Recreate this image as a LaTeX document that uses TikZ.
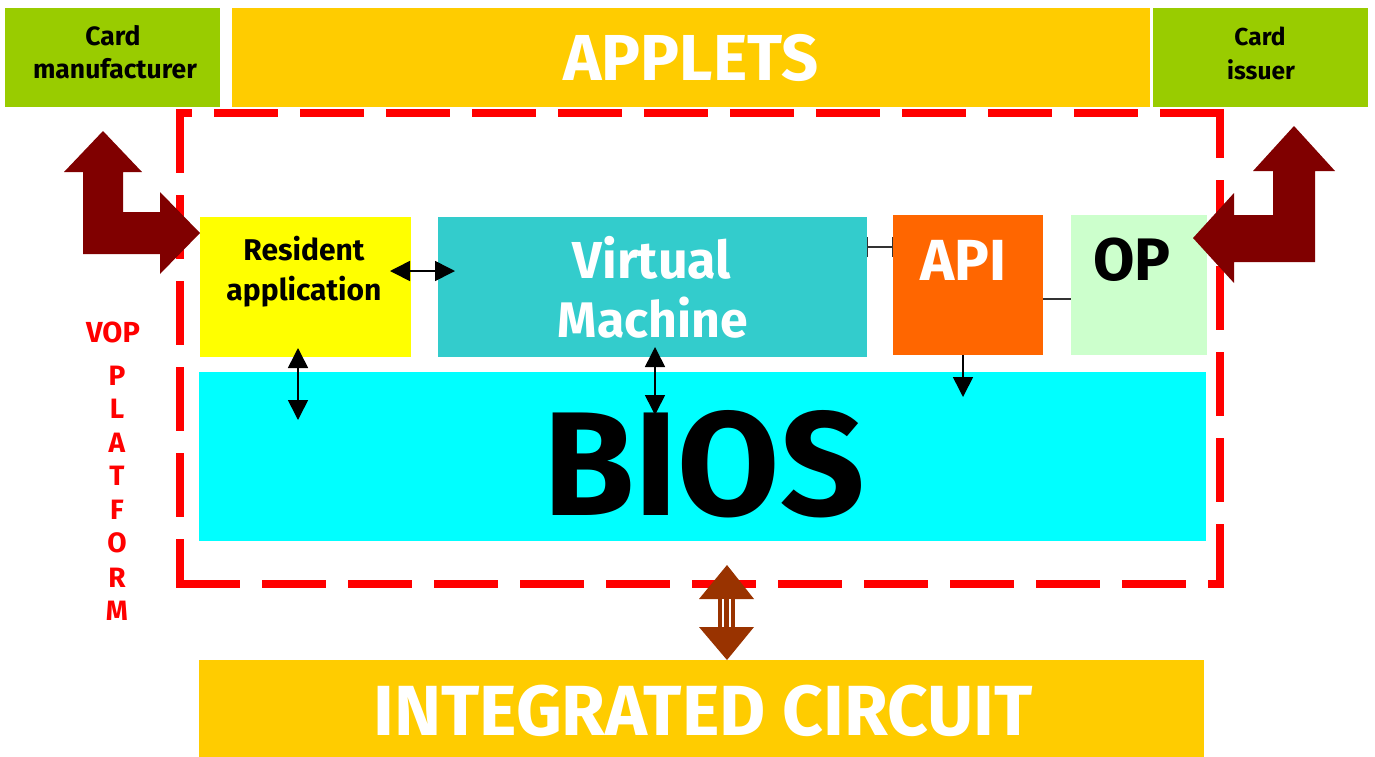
\documentclass[tikz,border=0pt]{standalone}
\usepackage{fontspec}
\setmainfont{Fira Sans}
\usetikzlibrary{arrows.meta}
\definecolor{cmgreen}{HTML}{99CC00}
\definecolor{gold}{HTML}{FFCC00}
\definecolor{vmteal}{HTML}{33CCCC}
\definecolor{apiorange}{HTML}{FF6600}
\definecolor{opgreen}{HTML}{CCFFCC}
\definecolor{biocyan}{HTML}{00FFFF}
\definecolor{resyellow}{HTML}{FFFF00}
\definecolor{darkred}{HTML}{800000}
\definecolor{brownarrow}{HTML}{993300}
\definecolor{vopred}{HTML}{FF0000}
\begin{document}
\begin{tikzpicture}[x=1pt,y=-1pt,
  box/.style={fill=#1,draw=none,inner sep=0pt,outer sep=0pt,anchor=north west},
  lbl/.style={anchor=base,inner sep=0pt,font=\fontsize{#1}{#1}\selectfont\bfseries},
  dbl/.style={line width=1.6pt,{Triangle[length=20pt,width=20pt]}-{Triangle[length=20pt,width=20pt]}},
  sgl/.style={line width=1.6pt,-{Triangle[length=20pt,width=20pt]}},
  frameside/.style={draw=vopred,line width=8pt,line cap=rect,dash pattern=on 56pt off 30pt}]
\useasboundingbox (0,0) rectangle (1375,756);
% boxes
\node[box=cmgreen,minimum width=215pt,minimum height=99pt] (cm) at (5,8) {};
\node[box=gold,minimum width=918pt,minimum height=99pt] (applets) at (232,8) {};
\node[box=cmgreen,minimum width=215pt,minimum height=99pt] (ci) at (1153,8) {};
\node[box=resyellow,minimum width=211pt,minimum height=140pt] (res) at (200,217) {};
\node[box=vmteal,minimum width=429pt,minimum height=140pt] (vm) at (438,217) {};
\node[box=apiorange,minimum width=150pt,minimum height=140pt] (api) at (893,215) {};
\node[box=opgreen,minimum width=136pt,minimum height=140pt] (op) at (1071,215) {};
\node[box=biocyan,minimum width=1007pt,minimum height=169pt] (bios) at (199,372) {};
\node[box=gold,minimum width=1005pt,minimum height=100pt] (ic) at (199,660) {};
% dashed platform frame
\node[draw=none,inner sep=0pt,outer sep=0pt,minimum width=1040pt,minimum height=471pt,anchor=north west] (vop) at (180,113) {};
\draw[frameside] (vop.north west) -- (vop.south west);
\draw[frameside] (vop.south west) -- (vop.south east);
\draw[frameside] (vop.south east) -- (vop.north east);
\draw[frameside] (vop.north east) -- (vop.north west);
% texts
\node[lbl=26.5] (cmt1) at (113,45) {Card};
\node[lbl=26.5] (cmt2) at (115,78) {manufacturer};
\node[lbl=24.5] (cit1) at (1260,45) {Card};
\node[lbl=24.5] (cit2) at (1261,79) {issuer};
\node[lbl=65,text=white] (appt) at (691,80) {APPLETS};
\node[lbl=30] (rest1) at (304,260) {Resident};
\node[lbl=30] (rest2) at (304,300) {application};
\node[lbl=52,text=white] (vmt1) at (652,278) {Virtual};
\node[lbl=50,text=white] (vmt2) at (653,337) {Machine};
\node[lbl=58,text=white] (apit) at (963,280) {API};
\node[lbl=60] (opt) at (1132,280) {OP};
\node[lbl=148] (biost) at (704,515) {BIOS};
\node[lbl=71,text=white] (ict) at (703,735) {INTEGRATED CIRCUIT};
\node[lbl=29,text=vopred] (vopt) at (113,342) {VOP};
\foreach \ch/\yy [count=\i] in {P/385,L/418,A/452,T/485,F/519,O/552,R/587,M/620}
  \node[lbl=28,text=vopred] (plat\i) at (117,\yy) {\ch};
% connectors
\coordinate (rv1) at (390,271);
\coordinate (rv2) at (455,271);
\draw[dbl] (rv1) -- (rv2);
\coordinate (rb1) at (298,348);
\coordinate (rb2) at (298,420);
\draw[dbl] (rb1) -- (rb2);
\coordinate (vb1) at (655,347);
\coordinate (vb2) at (655,415);
\draw[dbl] (vb1) -- (vb2);
\draw[line width=1.4pt,black!80,{Bar[width=20pt]}-{Bar[width=20pt]}] (vm.east |- 0,247) -- (api.west |- 0,247);
\draw[line width=1.4pt,black!80] (api.east |- 0,299) -- (op.west |- 0,299);
\coordinate (ab1) at (963,355);
\coordinate (ab2) at (963,397);
\draw[sgl] (ab1) -- (ab2);
% big L arrows
\fill[darkred] (103,131) -- (142,172) -- (123,172) -- (123,212) -- (160,212) -- (160,192) -- (200,233) -- (160,274) -- (160,254) -- (83,254) -- (83,172) -- (64,172) -- cycle;
\fill[darkred] (1294,126) -- (1335,171) -- (1315,171) -- (1315,262) -- (1234,262) -- (1234,283) -- (1193,238) -- (1234,193) -- (1234,215) -- (1273,215) -- (1273,171) -- (1253,171) -- cycle;
% bottom brown arrow
\fill[brownarrow] (727,565) -- (754,599) -- (699,599) -- cycle;
\fill[brownarrow] (727,660) -- (754,627) -- (699,627) -- cycle;
\fill[brownarrow] (718,598) rectangle (735,628);
\draw[white,line width=2.3pt] (722.9,599) -- (722.9,627);
\draw[white,line width=2.3pt] (729.7,599) -- (729.7,627);
\end{tikzpicture}
\end{document}
